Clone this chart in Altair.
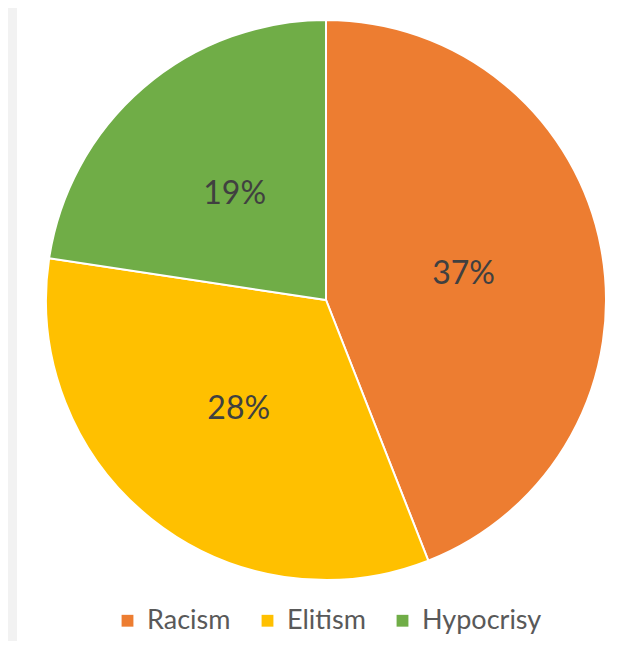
import altair as alt
import pandas as pd

categories = ["Racism", "Elitism", "Hypocrisy"]
values = [37, 28, 19]
labels = ["37%", "28%", "19%"]
colors = ["#ED7D31", "#FFC000", "#70AD47"]

df = pd.DataFrame({"cat": categories, "val": values, "lab": labels, "idx": [0, 1, 2]})

W, H = 609, 633
CX, CY, R = 318, 292, 280
FONT = "Lato"

color = alt.Color(
    "cat:N",
    scale=alt.Scale(domain=categories, range=colors),
    sort=categories,
    legend=alt.Legend(
        orient="none",
        legendX=106,
        legendY=599,
        direction="horizontal",
        title=None,
        symbolType="square",
        symbolSize=140,
        symbolStrokeWidth=0,
        labelFontSize=27,
        labelFont=FONT,
        labelColor="#595959",
        columnPadding=23,
        labelOffset=6,
    ),
)

base = alt.Chart(df).encode(
    theta=alt.Theta("val:Q", stack=True),
    order=alt.Order("idx:Q"),
)

bg = alt.Chart(df).mark_rect(color="white").encode(
    x=alt.value(9), x2=alt.value(W), y=alt.value(0), y2=alt.value(H)
)

pie = base.mark_arc(outerRadius=R, stroke="white", strokeWidth=2).encode(
    color=color, x=alt.value(CX), y=alt.value(CY)
)

text = base.mark_text(radius=140, fontSize=32, font=FONT, color="#404040").encode(
    text="lab:N", x=alt.value(CX), y=alt.value(CY)
)

chart = alt.layer(bg, pie, text).properties(
    width=W, height=H, padding=0, autosize=alt.AutoSizeParams(type="none"),
    background="#f2f2f2",
).configure_view(stroke=None)

chart.save("out.html", embed_options={"renderer": "svg", "actions": False})
